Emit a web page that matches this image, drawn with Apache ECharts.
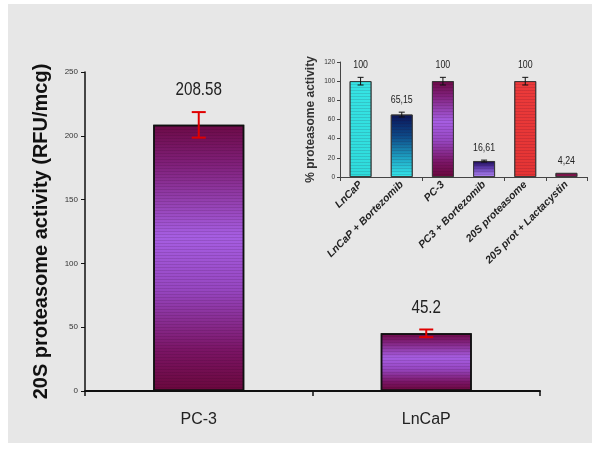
<!DOCTYPE html>
<html>
<head>
<meta charset="utf-8">
<script src="https://cdn.jsdelivr.net/npm/echarts@6/dist/echarts.min.js"></script>
<style>
html,body{margin:0;padding:0;background:#fff;}
#bg{position:absolute;left:8px;top:4px;width:584px;height:439px;background:#e7e7e7;}
#chart{position:absolute;left:0;top:0;width:600px;height:449px;}
</style>
</head>
<body>
<div id="bg"></div>
<div id="chart"></div>
<script>
// ---- Data ----
const mainCategories = ['PC-3', 'LnCaP'];
const mainValues = [208.58, 45.2];
const mainErrors = [10, 3];
const mainLabels = ['208.58', '45.2'];
const mainYTicks = [0, 50, 100, 150, 200, 250];

const insetCategories = ['LnCaP', 'LnCaP + Bortezomib', 'PC-3', 'PC3 + Bortezomib', '20S proteasome', '20S prot + Lactacystin'];
const insetValues = [100, 65.15, 100, 16.61, 100, 4.24];
const insetErrors = [4, 2.5, 4, 1, 4, 0];
const insetLabels = ['100', '65,15', '100', '16,61', '100', '4,24'];
const insetYTicks = [0, 20, 40, 60, 80, 100, 120];

// ---- Styles ----
const sans = '"Liberation Sans", Arial, sans-serif';
function grad(stops) {
  return new echarts.graphic.LinearGradient(0, 0, 0, 1, stops.map(c => ({offset: c[0], color: c[1]})));
}
const purpleGrad = () => grad([[0, '#6c0a46'], [0.15, '#80207a'], [0.42, '#a65ee2'], [0.62, '#9646c0'], [0.85, '#7a1464'], [1, '#6a083c']]);
const stripe = {symbol: 'rect', symbolSize: 1, dashArrayX: [[10, 0]], dashArrayY: [1, 2], color: 'rgba(40,0,30,0.13)'};
const insetColors = [
  grad([[0, '#36e4e4'], [1, '#2edcdc']]),
  grad([[0, '#0a1458'], [0.35, '#0d4a88'], [0.7, '#1ea4c4'], [1, '#34e8ea']]),
  purpleGrad(),
  grad([[0, '#180c52'], [0.4, '#5a3aa8'], [1, '#b488f8']]),
  grad([[0, '#ec3a3a'], [1, '#e43434']]),
  grad([[0, '#8a1a52'], [1, '#7a1046']])
];

function errRender(labels, color, capHalf, lw, fontSize, gap) {
  return function (params, api) {
    const i = api.value(0), v = api.value(1), e = api.value(2);
    const top = api.coord([i, v + e]);
    const bot = api.coord([i, v - e]);
    const children = [];
    if (e > 0) {
      const st = {stroke: color, lineWidth: lw};
      children.push({type: 'line', shape: {x1: top[0], y1: top[1], x2: bot[0], y2: bot[1]}, style: st});
      children.push({type: 'line', shape: {x1: top[0] - capHalf, y1: top[1], x2: top[0] + capHalf, y2: top[1]}, style: st});
      children.push({type: 'line', shape: {x1: bot[0] - capHalf, y1: bot[1], x2: bot[0] + capHalf, y2: bot[1]}, style: st});
    }
    children.push({type: 'text', x: top[0], y: top[1] - gap, scaleX: 0.8,
      style: {text: labels[params.dataIndex], x: 0, y: 0,
      textAlign: 'center', textVerticalAlign: 'middle', fill: '#222', font: fontSize + 'px ' + sans}});
    return {type: 'group', children: children};
  };
}

const chart = echarts.init(document.getElementById('chart'), null, {renderer: 'canvas'});
chart.setOption({
  backgroundColor: 'transparent',
  animation: false,
  grid: [
    {left: 85, right: 60, top: 72, bottom: 58},
    {left: 340, right: 13, top: 62, bottom: 272}
  ],
  xAxis: [
    {type: 'category', gridIndex: 0, data: mainCategories,
     axisLine: {lineStyle: {color: '#111', width: 2}},
     axisTick: {show: true, length: 5, lineStyle: {color: '#111', width: 1.5}},
     axisLabel: {margin: 21, fontSize: 16, color: '#222', fontFamily: sans}},
    {type: 'category', gridIndex: 1, data: insetCategories,
     axisLine: {lineStyle: {color: '#444', width: 1}},
     axisTick: {show: true, interval: 1, length: 4, lineStyle: {color: '#444'}},
     axisLabel: {interval: 0, rotate: 45, margin: 6, fontSize: 10.5, fontStyle: 'italic', fontWeight: 'bold', color: '#222', fontFamily: sans}}
  ],
  yAxis: [
    {type: 'value', gridIndex: 0, min: 0, max: 250, interval: 50,
     name: '20S proteasome activity (RFU/mcg)', nameLocation: 'middle', nameGap: 34,
     nameTextStyle: {fontSize: 20, fontWeight: 'bold', color: '#111', fontFamily: sans},
     axisLine: {show: true, lineStyle: {color: '#111', width: 1.5}},
     axisTick: {show: true, length: 4, lineStyle: {color: '#111'}},
     axisLabel: {margin: 7, fontSize: 8, color: '#333', fontFamily: sans, formatter: v => mainYTicks.includes(v) ? String(v) : ''},
     splitLine: {show: false}},
    {type: 'value', gridIndex: 1, min: 0, max: 120, interval: 20,
     name: '% proteasome activity', nameLocation: 'middle', nameGap: 23,
     nameTextStyle: {fontSize: 12, fontWeight: 'bold', color: '#333', fontFamily: sans},
     axisLine: {show: true, lineStyle: {color: '#444', width: 1}},
     axisTick: {show: true, length: 3, lineStyle: {color: '#444'}},
     axisLabel: {margin: 5, fontSize: 6.5, color: '#333', fontFamily: sans, formatter: v => insetYTicks.includes(v) ? String(v) : ''},
     splitLine: {show: false}}
  ],
  series: [
    {type: 'bar', xAxisIndex: 0, yAxisIndex: 0, barWidth: '40%',
     data: mainValues.map(v => ({value: v})),
     itemStyle: {color: purpleGrad(), borderColor: '#111', borderWidth: 1.5, decal: stripe}},
    {type: 'custom', xAxisIndex: 0, yAxisIndex: 0, z: 5,
     renderItem: errRender(mainLabels, '#e00000', 7, 2, 19, 22),
     data: mainValues.map((v, i) => [i, v, mainErrors[i]])},
    {type: 'bar', xAxisIndex: 1, yAxisIndex: 1, barWidth: '53%',
     data: insetValues.map((v, i) => ({value: v, itemStyle: {color: insetColors[i]}})),
     itemStyle: {borderColor: '#333', borderWidth: 0.8, decal: stripe}},
    {type: 'custom', xAxisIndex: 1, yAxisIndex: 1, z: 5,
     renderItem: errRender(insetLabels, '#111', 3, 1, 11, 12),
     data: insetValues.map((v, i) => [i, v, insetErrors[i]])}
  ]
});
</script>
</body>
</html>
